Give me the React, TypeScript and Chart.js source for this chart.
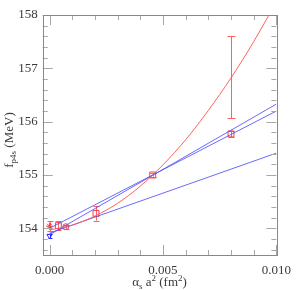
import React, { useEffect, useRef } from "react";
import { Chart, registerables } from "chart.js";
Chart.register(...registerables);

// ---- axes ----
const X_MIN = -0.0003;
const X_MAX = 0.01;
const Y_MIN = 153.5;
const Y_MAX = 158;
const xTickValues = [0, 0.001, 0.002, 0.003, 0.004, 0.005, 0.006, 0.007, 0.008, 0.009, 0.01];
const xMajorValues = [0, 0.005, 0.01];
const xMajorLabels = ["0.000", "0.005", "0.010"];
const yTickValues = [153.6, 153.8, 154, 154.2, 154.4, 154.6, 154.8, 155, 155.2, 155.4, 155.6, 155.8, 156, 156.2, 156.4, 156.6, 156.8, 157, 157.2, 157.4, 157.6, 157.8, 158];
const yMajorValues = [154, 155, 156, 157, 158];
const yMajorLabels = ["154", "155", "156", "157", "158"];

// ---- fit curves ----
const curveX = [0, 0.001, 0.002, 0.003, 0.004, 0.005, 0.006, 0.007, 0.008, 0.009, 0.0097];
const redCurveY = [153.97, 154.06, 154.23, 154.47, 154.79, 155.19, 155.66, 156.21, 156.82, 157.5, 158.02];
const blueLineX = [0, 0.01];
const blueLineAY = [153.88, 156.33];
const blueLineBY = [154.0, 156.2];
const blueLineCY = [153.91, 155.41];

// ---- data points ----
const sqX = [0.00039, 0.00205, 0.00455, 0.008];
const sqY = [154.05, 154.28, 155.0, 155.77];
const sqErr = [0.085, 0.135, 0.03, 0.06];
const circX = [0.00072];
const circY = [154.03];
const circErr = [0.04];
const starX = [0];
const starY = [154.04];
const starErr = [0.09];
const triX = [0];
const triY = [153.86];
const triErr = [0.04];
const bandX = [0.008];
const bandLo = [156.06];
const bandHi = [157.6];

const RED = "rgba(255,60,60,1)";
const RED_LINE = "rgba(255,90,90,0.95)";
const BLUE_LINE = "rgba(80,80,255,0.85)";
const BLUE = "rgba(40,40,255,1)";
const FONT = "'Liberation Serif', 'DejaVu Serif', serif";
const TEXT = "#3a3a3a";

const pts = (xs: number[], ys: number[]) => xs.map((x, i) => ({ x, y: ys[i] }));

export default function App() {
  const ref = useRef<HTMLCanvasElement | null>(null);
  useEffect(() => {
    if (!ref.current) return;

    const errorBars = {
      id: "errorBars",
      beforeDatasetsDraw(chart: any) {
        const { ctx, scales } = chart;
        const xs = scales.x, ys = scales.y;
        const bars: { x: number; lo: number; hi: number; c: string; w: number }[] = [];
        sqX.forEach((x, i) => bars.push({ x, lo: sqY[i] - sqErr[i], hi: sqY[i] + sqErr[i], c: RED_LINE, w: 3 }));
        circX.forEach((x, i) => bars.push({ x, lo: circY[i] - circErr[i], hi: circY[i] + circErr[i], c: RED_LINE, w: 3 }));
        starX.forEach((x, i) => bars.push({ x, lo: starY[i] - starErr[i], hi: starY[i] + starErr[i], c: RED_LINE, w: 3 }));
        triX.forEach((x, i) => bars.push({ x, lo: triY[i] - triErr[i], hi: triY[i] + triErr[i], c: BLUE, w: 2 }));
        bandX.forEach((x, i) => bars.push({ x, lo: bandLo[i], hi: bandHi[i], c: RED_LINE, w: 4 }));
        ctx.save();
        ctx.lineWidth = 1;
        bars.forEach((b) => {
          const px = Math.round(xs.getPixelForValue(b.x)) + 0.5;
          const p1 = ys.getPixelForValue(b.lo);
          const p2 = ys.getPixelForValue(b.hi);
          ctx.strokeStyle = b.c;
          ctx.beginPath();
          ctx.moveTo(px, p1);
          ctx.lineTo(px, p2);
          ctx.moveTo(px - b.w, Math.round(p1) + 0.5);
          ctx.lineTo(px + b.w, Math.round(p1) + 0.5);
          ctx.moveTo(px - b.w, Math.round(p2) + 0.5);
          ctx.lineTo(px + b.w, Math.round(p2) + 0.5);
          ctx.stroke();
        });
        ctx.restore();
      },
    };

    const frame = {
      id: "frame",
      afterDraw(chart: any) {
        const { ctx, chartArea: a, scales } = chart;
        const xs = scales.x, ys = scales.y;
        ctx.save();
        ctx.lineWidth = 1;
        ctx.strokeStyle = "#a8a8a8";
        ctx.beginPath();
        xTickValues.forEach((v) => {
          const px = Math.round(xs.getPixelForValue(v)) + 0.5;
          const len = xMajorValues.includes(v) ? 10 : 5;
          ctx.moveTo(px, a.bottom);
          ctx.lineTo(px, a.bottom - len);
          ctx.moveTo(px, a.top);
          ctx.lineTo(px, a.top + len);
        });
        yTickValues.forEach((v) => {
          const py = Math.round(ys.getPixelForValue(v)) + 0.5;
          const len = yMajorValues.some((m) => Math.abs(m - v) < 1e-6) ? 10 : 5;
          ctx.moveTo(a.left, py);
          ctx.lineTo(a.left + len, py);
          ctx.moveTo(a.right, py);
          ctx.lineTo(a.right - len, py);
        });
        ctx.stroke();
        ctx.strokeStyle = "#888888";
        ctx.strokeRect(Math.round(a.left) + 0.5, Math.round(a.top) + 0.5, Math.round(a.right - a.left), Math.round(a.bottom - a.top));

        // axis titles
        ctx.fillStyle = TEXT;
        ctx.textBaseline = "alphabetic";
        const big = `13px ${FONT}`;
        const small = `9px ${FONT}`;
        const drawRich = (parts: { t: string; f: string; dy: number }[], cx: number, by: number) => {
          let w = 0;
          parts.forEach((p) => { ctx.font = p.f; w += ctx.measureText(p.t).width; });
          let x = cx - w / 2;
          parts.forEach((p) => {
            ctx.font = p.f;
            ctx.fillText(p.t, x, by + p.dy);
            x += ctx.measureText(p.t).width;
          });
        };
        drawRich(
          [
            { t: "α", f: big, dy: 0 },
            { t: "s", f: small, dy: 3 },
            { t: " a", f: big, dy: 0 },
            { t: "2", f: small, dy: -5 },
            { t: " (fm", f: big, dy: 0 },
            { t: "2", f: small, dy: -5 },
            { t: ")", f: big, dy: 0 },
          ],
          (a.left + a.right) / 2,
          286
        );
        ctx.save();
        ctx.translate(13, (a.top + a.bottom) / 2 + 5);
        ctx.rotate(-Math.PI / 2);
        drawRich(
          [
            { t: "f", f: big, dy: 0 },
            { t: "p4s", f: small, dy: 3 },
            { t: " (MeV)", f: big, dy: 0 },
          ],
          0,
          0
        );
        ctx.restore();
        ctx.restore();
      },
    };

    const lineDs = (xs: number[], ys: number[], color: string, smooth = false) => ({
      type: "line" as const,
      data: pts(xs, ys),
      borderColor: color,
      borderWidth: 1,
      pointRadius: 0,
      showLine: true,
      fill: false,
      tension: smooth ? 0.4 : 0,
      cubicInterpolationMode: smooth ? ("monotone" as const) : ("default" as const),
    });

    const chart = new Chart(ref.current, {
      type: "scatter",
      data: {
        datasets: [
          lineDs(curveX, redCurveY, RED_LINE, true),
          lineDs(blueLineX, blueLineAY, BLUE_LINE),
          lineDs(blueLineX, blueLineBY, BLUE_LINE),
          lineDs(blueLineX, blueLineCY, BLUE_LINE),
          {
            data: pts(sqX, sqY),
            pointStyle: "rect",
            pointRadius: 4.2,
            borderColor: RED,
            backgroundColor: "rgba(0,0,0,0)",
            borderWidth: 1,
          },
          {
            data: pts(circX, circY),
            pointStyle: "circle",
            pointRadius: 3,
            borderColor: RED,
            backgroundColor: "rgba(0,0,0,0)",
            borderWidth: 1,
          },
          {
            data: pts(starX, starY),
            pointStyle: "star",
            pointRadius: 3.5,
            borderColor: RED,
            backgroundColor: "rgba(0,0,0,0)",
            borderWidth: 1,
          },
          {
            data: pts(triX, triY),
            pointStyle: "triangle",
            rotation: 180,
            pointRadius: 3,
            borderColor: BLUE,
            backgroundColor: "rgba(0,0,0,0)",
            borderWidth: 1,
          },
        ] as any,
      },
      options: {
        animation: false,
        responsive: false,
        devicePixelRatio: 1,
        layout: { padding: { left: 0, top: 15, right: 17, bottom: 0 } },
        plugins: { legend: { display: false }, tooltip: { enabled: false } },
        scales: {
          x: {
            type: "linear",
            min: X_MIN,
            max: X_MAX,
            afterBuildTicks: (s: any) => { s.ticks = xTickValues.map((v) => ({ value: v })); },
            afterFit: (s: any) => { s.height = 35; },
            grid: { display: false, drawTicks: false },
            border: { display: false },
            ticks: {
              autoSkip: false,
              maxRotation: 0,
              padding: 8,
              color: TEXT,
              font: { family: FONT, size: 13 },
              callback: (v: any) => {
                const i = xMajorValues.findIndex((m) => Math.abs(m - Number(v)) < 1e-9);
                return i >= 0 ? xMajorLabels[i] : "";
              },
            },
          },
          y: {
            type: "linear",
            min: Y_MIN,
            max: Y_MAX,
            afterBuildTicks: (s: any) => { s.ticks = yTickValues.map((v) => ({ value: v })); },
            afterFit: (s: any) => { s.width = 42.7; },
            grid: { display: false, drawTicks: false },
            border: { display: false },
            ticks: {
              autoSkip: false,
              padding: 5,
              color: TEXT,
              font: { family: FONT, size: 13 },
              callback: (v: any) => {
                const i = yMajorValues.findIndex((m) => Math.abs(m - Number(v)) < 1e-6);
                return i >= 0 ? yMajorLabels[i] : "";
              },
            },
          },
        },
      },
      plugins: [errorBars, frame],
    } as any);
    return () => chart.destroy();
  }, []);

  return (
    <div style={{ position: "fixed", left: 0, top: 0, width: 299, height: 290, background: "#fff" }}>
      <canvas ref={ref} width={299} height={290} style={{ display: "block" }} />
    </div>
  );
}
